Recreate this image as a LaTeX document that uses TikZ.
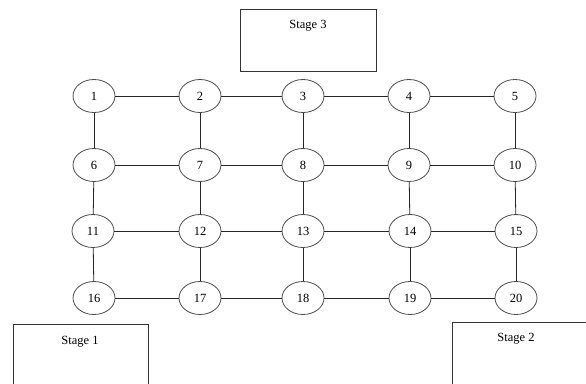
\documentclass[tikz,border=0pt]{standalone}
\usepackage{fontspec}
\setmainfont{Liberation Serif}
\usetikzlibrary{shapes.geometric}
\begin{document}
\begin{tikzpicture}[x=1pt,y=-1pt,
  vtx/.style={ellipse,draw=black!70,line width=0.8pt,minimum width=42pt,minimum height=33pt,inner sep=0pt,font=\fontsize{12.5}{14}\selectfont},
  stagebox/.style={draw=black!80,line width=0.9pt,rectangle,inner sep=0pt,anchor=north west},
  lbl/.style={font=\fontsize{12.5}{14}\selectfont,inner sep=0pt},
  edge/.style={draw=black!85,line width=0.8pt}]
\path[use as bounding box] (0,0) rectangle (586,383);
\clip (0,0) rectangle (586,383);
% stage boxes
\node[stagebox,minimum width=136pt,minimum height=62pt] (s3) at (240,9) {};
\node[lbl] (s3t) at (308,26) {Stage 3};
\node[stagebox,minimum width=135pt,minimum height=80pt] (s1) at (13,324) {};
\node[lbl] (s1t) at (80,342) {Stage 1};
\node[stagebox,minimum width=150pt,minimum height=80pt] (s2) at (452,322) {};
\node[lbl] (s2t) at (516,339) {Stage 2};
% vertices
\node[vtx] (n1) at (94,96) {1};
\node[vtx] (n2) at (200,96) {2};
\node[vtx] (n3) at (303,96) {3};
\node[vtx] (n4) at (409,96) {4};
\node[vtx] (n5) at (515,96) {5};
\node[vtx] (n6) at (94,165) {6};
\node[vtx] (n7) at (200,165) {7};
\node[vtx] (n8) at (303,165) {8};
\node[vtx] (n9) at (409,165) {9};
\node[vtx] (n10) at (515,165) {10};
\node[vtx] (n11) at (93,231) {11};
\node[vtx] (n12) at (200,231) {12};
\node[vtx] (n13) at (303,231) {13};
\node[vtx] (n14) at (410,231) {14};
\node[vtx] (n15) at (516,231) {15};
\node[vtx] (n16) at (94,298) {16};
\node[vtx] (n17) at (200,298) {17};
\node[vtx] (n18) at (303,298) {18};
\node[vtx] (n19) at (410,298) {19};
\node[vtx] (n20) at (516,298) {20};
% horizontal edges
\foreach \a/\b in {1/2,2/3,3/4,4/5,6/7,7/8,8/9,9/10,11/12,12/13,13/14,14/15,16/17,17/18,18/19,19/20}
  \draw[edge] (n\a) -- (n\b);
% vertical edges
\foreach \a/\b in {1/6,2/7,3/8,4/9,5/10,6/11,7/12,8/13,9/14,10/15,11/16,12/17,13/18,14/19,15/20}
  \draw[edge] (n\a) -- (n\b);
\end{tikzpicture}
\end{document}
